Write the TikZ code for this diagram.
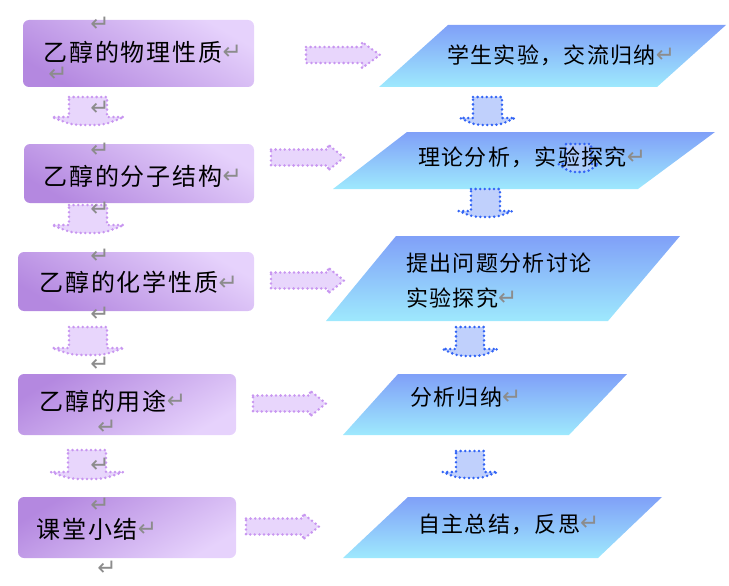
\documentclass[tikz,border=0pt]{standalone}
\usepackage{fontspec}
\newfontfamily\cjkkai[LetterSpace=8]{Noto Sans CJK SC}
\newfontfamily\cjksong[LetterSpace=6]{Noto Sans CJK SC}
\newfontfamily\markfont{DejaVu Sans}
\usetikzlibrary{calc}

\definecolor{boxdark}{RGB}{180,136,224}
\definecolor{boxlight}{RGB}{230,210,252}
\definecolor{paratop}{RGB}{128,160,248}
\definecolor{parabot}{RGB}{158,233,253}
\definecolor{lilacdot}{RGB}{200,150,240}
\definecolor{lilacfill}{RGB}{232,214,252}
\definecolor{bluedot}{RGB}{50,100,245}
\definecolor{bluefill}{RGB}{192,208,252}
\definecolor{markgray}{RGB}{140,140,140}

\newcommand{\pmark}{\raisebox{.05em}{\markfont\fontsize{23}{23}\selectfont\color{markgray}↵}}

\tikzset{
	pics/dnarr/.style n args={4}{code={
		\path[pic actions] (-#1,0)--(#1,0)--(#1,#3)--(#2,#3)
			.. controls ({0.45*#2},#4) .. (0,#4)
			.. controls ({-0.45*#2},#4) .. (-#2,#3)--(-#1,#3)--cycle;
	}},
	pics/rtarr/.style 2 args={code={
		\path[pic actions] (0,-8)--(#1,-8)--(#1,-13)--(#2,0)--(#1,13)--(#1,8)--(0,8)--cycle;
	}}
}

\begin{document}
\begin{tikzpicture}[x=1pt, y=-1pt,
		lbox/.style={rounded corners=6pt, inner sep=0pt},
		lboxup/.style={lbox, top color=boxlight, bottom color=boxdark, shading angle=-30},
		lboxdn/.style={lbox, top color=boxdark, bottom color=boxlight, shading angle=30},
		ltext/.style={anchor=west, inner sep=0pt, font=\cjkkai\fontsize{24}{28}\selectfont},
		rtext/.style={anchor=west, inner sep=0pt, font=\cjksong\fontsize{22}{26}\selectfont},
		para/.style={top color=paratop, bottom color=parabot},
		dotline/.style={line width=2.8pt, dash pattern=on 0pt off 4.6pt, line cap=round},
		lilac/.style={dotline, draw=lilacdot, fill=lilacfill},
		blueish/.style={dotline, draw=bluedot, fill=bluefill},
		pmk/.style={inner sep=0pt, text=markgray, font=\markfont\fontsize{23}{23}\selectfont}]
	\useasboundingbox (0,0) rectangle (729,586);

	% left column boxes
	\node[lboxup, minimum width=231pt, minimum height=67pt] (box1) at (138.5,53.5) {};
	\node[lboxup, minimum width=230pt, minimum height=59pt] (box2) at (139,173.5) {};
	\node[lboxup, minimum width=236pt, minimum height=59pt] (box3) at (136,281.5) {};
	\node[lboxdn, minimum width=218pt, minimum height=61pt] (box4) at (127,404.5) {};
	\node[lboxdn, minimum width=218pt, minimum height=61pt] (box5) at (127,527.5) {};

	% right column
	\shade[para] (448,25)--(726,25)--(657,87)--(379,87)--cycle;
	\shade[para] (407,132)--(715,132)--(638,189)--(333,189)--cycle;
	\shade[para] (396,236)--(680,236)--(608,321)--(326,321)--cycle;
	\shade[para] (398,374)--(627,374)--(569,435)--(343,435)--cycle;
	\shade[para] (408,497)--(662,497)--(598,558)--(343,558)--cycle;

	% arrows across
	\pic[lilac] at (306,55) {rtarr={56}{74}};
	\pic[lilac] at (271,157.5) {rtarr={57}{73}};
	\pic[lilac] at (271,280.5) {rtarr={57}{73}};
	\pic[lilac] at (253,403.5) {rtarr={57}{73}};
	\pic[lilac] at (246,526.5) {rtarr={57}{73}};

	% arrows down
	\pic[lilac] at (88,97) {dnarr={19}{36}{20}{28}};
	\pic[lilac] at (88,205) {dnarr={19}{36}{20}{28}};
	\pic[lilac] at (88,327) {dnarr={19}{36}{21}{28}};
	\pic[lilac] at (87,450) {dnarr={19}{36.5}{22}{29}};
	\pic[blueish] at (487.5,97) {dnarr={14.5}{27.5}{21}{28}};
	\pic[blueish] at (485.5,189) {dnarr={14.5}{27}{22}{28}};
	\pic[blueish] at (470,327) {dnarr={14}{27.5}{22}{29}};
	\pic[blueish] at (470,451) {dnarr={14}{27.5}{21}{27}};
	\pic[blueish, fill opacity=.6] at (578.5,144) {dnarr={12.5}{20}{20}{28}};

	% texts
	\node[ltext] (t1) at (43,52) {乙醇的物理性质\pmark};
	\node[ltext] (t2) at (43,176) {乙醇的分子结构\pmark};
	\node[ltext] (t3) at (39,282) {乙醇的化学性质\pmark};
	\node[ltext] (t4) at (39,401) {乙醇的用途\pmark};
	\node[ltext] (t5) at (36,529) {课堂小结\pmark};

	\node[rtext] (r1) at (447,55) {学生实验，交流归纳\pmark};
	\node[rtext] (r2) at (418,157) {理论分析，实验探究\pmark};
	\node[rtext] (r3a) at (406,263) {提出问题分析讨论};
	\node[rtext] (r3b) at (406,298) {实验探究\pmark};
	\node[rtext] (r4) at (410,397) {分析归纳\pmark};
	\node[rtext] (r5) at (418,524) {自主总结，反思\pmark};

	% stray paragraph marks
	\foreach \mx/\my [count=\k] in {100/24, 58/74, 100/108, 100/150, 100/209, 100/256,
			100/314, 100/364, 107/427, 100/465, 100/505, 107/568}
		\node[pmk] (mk\k) at (\mx,\my) {↵};
\end{tikzpicture}
\end{document}
